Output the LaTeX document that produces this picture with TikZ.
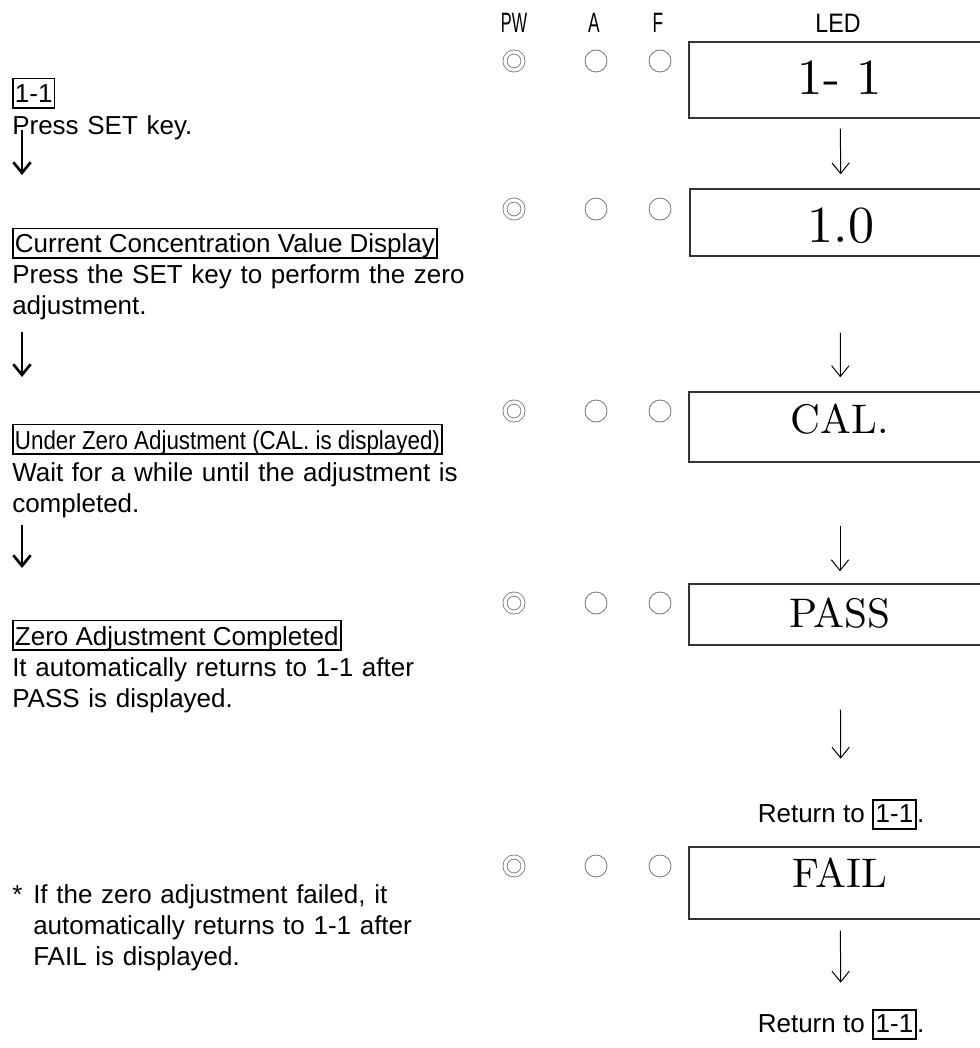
\documentclass[tikz,border=0pt]{standalone}
\usepackage{fontspec}
\setsansfont{Liberation Sans}
\newfontfamily\ledfont{lmroman10-regular}[Extension=.otf]
\usetikzlibrary{arrows.meta,positioning}

\newcommand{\keytag}[1]{{\setlength{\fboxsep}{1.5pt}\setlength{\fboxrule}{1.3pt}\fbox{\rule[-3pt]{0pt}{17.5pt}#1}}}

\begin{document}
\begin{tikzpicture}[
  x=0.75pt, y=-0.75pt,
  txt/.style={font=\sffamily\fontsize{19.5}{23.25}\selectfont, inner sep=0pt, anchor=base west, align=left, text width=420pt},
  tag/.style={draw, line width=1.4pt, font=\sffamily\fontsize{19.5}{23.25}\selectfont, inner xsep=1.5pt, inner ysep=0pt, text height=18.4pt, text depth=3.8pt, anchor=base west},
  head/.style={font=\sffamily\fontsize{21}{24}\selectfont, inner sep=0pt, anchor=base},
  lamp/.style={circle, draw=black!55, line width=0.6pt, minimum size=16.5pt, inner sep=0pt},
  pwlamp/.style={lamp, minimum size=13.5pt, double=white, double distance=2.4pt},
  led/.style={draw=black!80, line width=1.1pt, minimum width=226.5pt, inner sep=0pt, anchor=base},
  darrow/.style={-{Straight Barb[length=8pt,width=13pt]}, line width=0.75pt},
  larrow/.style={-{Straight Barb[length=8pt,width=13pt]}, line width=2pt},
]
  \useasboundingbox (0,0) rectangle (980,1048);
  \clip (0,0) rectangle (980,1048);

  % header
  \node[head] (hpw) at (514,33) {\scalebox{0.58}[1]{PW}};
  \node[head] (ha) at (594,33) {\scalebox{0.62}[1]{A}};
  \node[head] (hf) at (658,33) {\scalebox{0.62}[1]{F}};
  \node[head, font=\sffamily\fontsize{20}{24}\selectfont] (hled) at (838,33) {\scalebox{0.87}[1]{LED}};

  % lamps
  \foreach \r/\yy in {1/61,2/209,3/411,4/603,5/866} {
    \node[pwlamp] (pw\r) at (514,\yy) {};
    \node[lamp] (a\r) at (596,\yy) {};
    \node[lamp] (f\r) at (660,\yy) {};
  }

  % LED display
  \node[led, text height=39.75pt, text depth=17.25pt, font=\ledfont\fontsize{38}{38}\selectfont] (led1) at (840,95) {1- 1};
  \node[led, text height=40.5pt, text depth=9.75pt, font=\ledfont\fontsize{39}{39}\selectfont] (led2) at (841,243) {1.0};
  \node[led, text height=30.75pt, text depth=21.75pt, font=\ledfont\fontsize{31}{31}\selectfont] (led3) at (840,433) {CAL.};
  \node[led, text height=32.25pt, text depth=13.5pt, font=\ledfont\fontsize{31}{31}\selectfont] (led4) at (840,627) {PASS};
  \node[led, text height=30pt, text depth=24pt, font=\ledfont\fontsize{31}{31}\selectfont] (led5) at (840,887) {FAIL};
  \node[txt, anchor=base, text width=] (ret1) at (841,822) {Return to \keytag{1-1}.};
  \node[txt, anchor=base, text width=] (ret2) at (841,1032) {Return to \keytag{1-1}.};

  \draw[darrow, shorten <=7.5pt, shorten >=10.5pt] (led1) -- (led2);
  \draw[darrow, shorten <=57pt, shorten >=10.5pt] (led2) -- (led3);
  \draw[darrow, shorten <=47.25pt, shorten >=9pt] (led3) -- (led4);
  \draw[darrow, shorten <=48pt, shorten >=30pt] (led4) -- (ret1);
  \draw[darrow, shorten <=8.25pt, shorten >=19.5pt] (led5) -- (ret2);

  % steps
  \node[tag] (t1) at (12,103) {1-1};
  \node[txt] (b1) at (12,135) {Press SET key.};
  \node[tag] (t2) at (12,253) {Current Concentration Value Display};
  \node[txt] (b2) at (12,284) {Press the SET key to perform the zero\\adjustment.};
  \node[tag] (t3) at (12,449) {\scalebox{0.86}[1]{Under Zero Adjustment (CAL. is displayed)}};
  \node[txt] (b3) at (12,481) {Wait for a while until the adjustment is\\completed.};
  \node[tag] (t4) at (12,645) {Zero Adjustment Completed};
  \node[txt] (b4) at (12,676) {It automatically returns to 1-1 after\\PASS is displayed.};
  \node[txt, text width=] (star) at (12,903) {*};
  \node[txt] (note) at (33,903) {If the zero adjustment failed, it\\automatically returns to 1-1 after\\FAIL is displayed.};

  \coordinate (l1s) at (22,130); \coordinate (l1e) at (22,175);
  \coordinate (l2s) at (22,332); \coordinate (l2e) at (22,377);
  \coordinate (l3s) at (22,525); \coordinate (l3e) at (22,568);
  \draw[larrow] (l1s) -- (l1e);
  \draw[larrow] (l2s) -- (l2e);
  \draw[larrow] (l3s) -- (l3e);
\end{tikzpicture}
\end{document}
